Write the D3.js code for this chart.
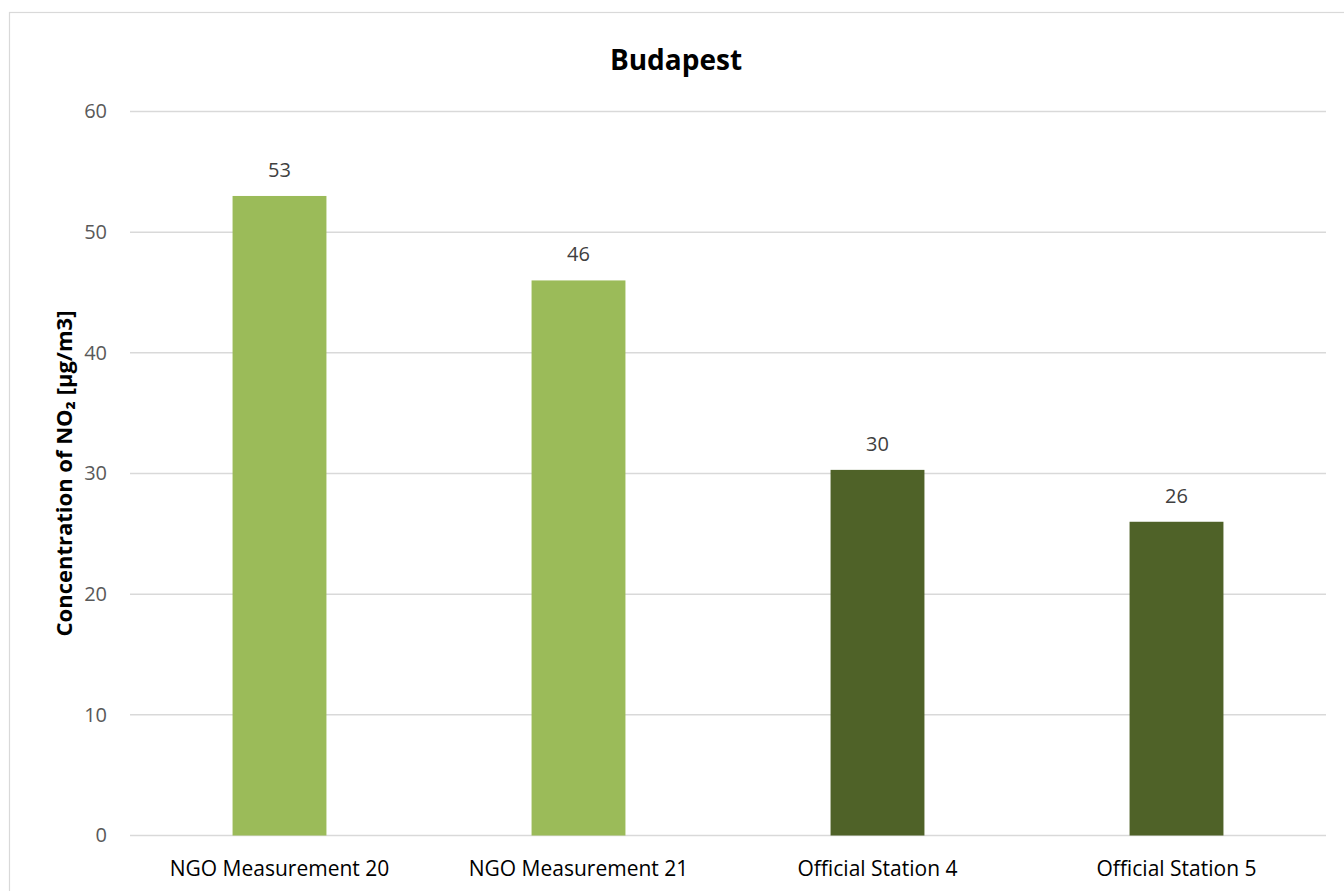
<!DOCTYPE html>
<html>
<head>
<meta charset="utf-8">
<script src="https://cdn.jsdelivr.net/npm/d3@7"></script>
<style>
  body { margin: 0; background: #fff; }
  text { font-family: "Open Sans", "Noto Sans", sans-serif; }
</style>
</head>
<body>
<svg id="chart" width="1344" height="891"></svg>
<script>
// Data
var categories = ["NGO Measurement 20", "NGO Measurement 21", "Official Station 4", "Official Station 5"];
var values = [53, 46, 30.3, 26];
var labels = ["53", "46", "30", "26"];
var colors = ["#9bbb59", "#9bbb59", "#4f6228", "#4f6228"];
var yTicks = [0, 10, 20, 30, 40, 50, 60];

var table = categories.map(function(c, i) {
  return {cat: c, val: values[i], lab: labels[i], col: colors[i]};
});

var svg = d3.select("#chart");
var plot = {left: 130, right: 1326, top: 111.5, bottom: 835.5};

// chart border
svg.append("rect")
   .attr("x", 9.5).attr("y", 12.5)
   .attr("width", 1344).attr("height", 891)
   .attr("fill", "none")
   .attr("stroke", "#d9d9d9")
   .attr("stroke-width", 1.2);

var x = d3.scaleBand()
  .domain(categories)
  .range([plot.left, plot.right])
  .paddingInner(0.686)
  .paddingOuter(0.343);

var y = d3.scaleLinear()
  .domain([0, 60])
  .range([plot.bottom, plot.top]);

// gridlines
svg.append("g").selectAll("line").data(yTicks).enter().append("line")
   .attr("x1", plot.left).attr("x2", plot.right)
   .attr("y1", d => y(d)).attr("y2", d => y(d))
   .attr("stroke", "#d9d9d9")
   .attr("stroke-width", 1.5);

// y axis labels
var yAxis = d3.axisLeft(y).tickValues(yTicks).tickSize(0).tickPadding(23);
var gy = svg.append("g").attr("transform", "translate(" + plot.left + ",0)").call(yAxis);
gy.select(".domain").remove();
gy.selectAll("text")
  .attr("font-family", "'Open Sans', sans-serif")
  .attr("font-size", "20px")
  .attr("fill", "#595959");

// bars
svg.append("g").selectAll("rect").data(table).enter().append("rect")
   .attr("x", d => x(d.cat))
   .attr("y", d => y(d.val))
   .attr("width", x.bandwidth())
   .attr("height", d => y(0) - y(d.val))
   .attr("fill", d => d.col);

// value labels
svg.append("g").selectAll("text").data(table).enter().append("text")
   .attr("x", d => x(d.cat) + x.bandwidth() / 2)
   .attr("y", d => y(d.val) - 19)
   .attr("text-anchor", "middle")
   .attr("font-size", "20px")
   .attr("fill", "#404040")
   .text(d => d.lab);

// x axis labels
var xAxis = d3.axisBottom(x).tickSize(0).tickPadding(0);
var gx = svg.append("g").attr("transform", "translate(0," + plot.bottom + ")").call(xAxis);
gx.select(".domain").remove();
gx.selectAll("text")
  .attr("dy", null)
  .attr("y", 40)
  .attr("font-family", "'Open Sans', sans-serif")
  .attr("font-size", "21px")
  .attr("fill", "#000");

// title
svg.append("text")
   .attr("x", 676).attr("y", 70)
   .attr("text-anchor", "middle")
   .attr("font-size", "28px")
   .attr("font-weight", "bold")
   .attr("fill", "#000")
   .text("Budapest");

// y axis title
svg.append("text")
   .attr("transform", "translate(72," + ((plot.top + plot.bottom) / 2) + ") rotate(-90)")
   .attr("text-anchor", "middle")
   .attr("font-size", "22px")
   .attr("font-weight", "bold")
   .attr("fill", "#000")
   .text("Concentration of NO\u2082 [\u00b5g/m3]");
</script>
</body>
</html>
